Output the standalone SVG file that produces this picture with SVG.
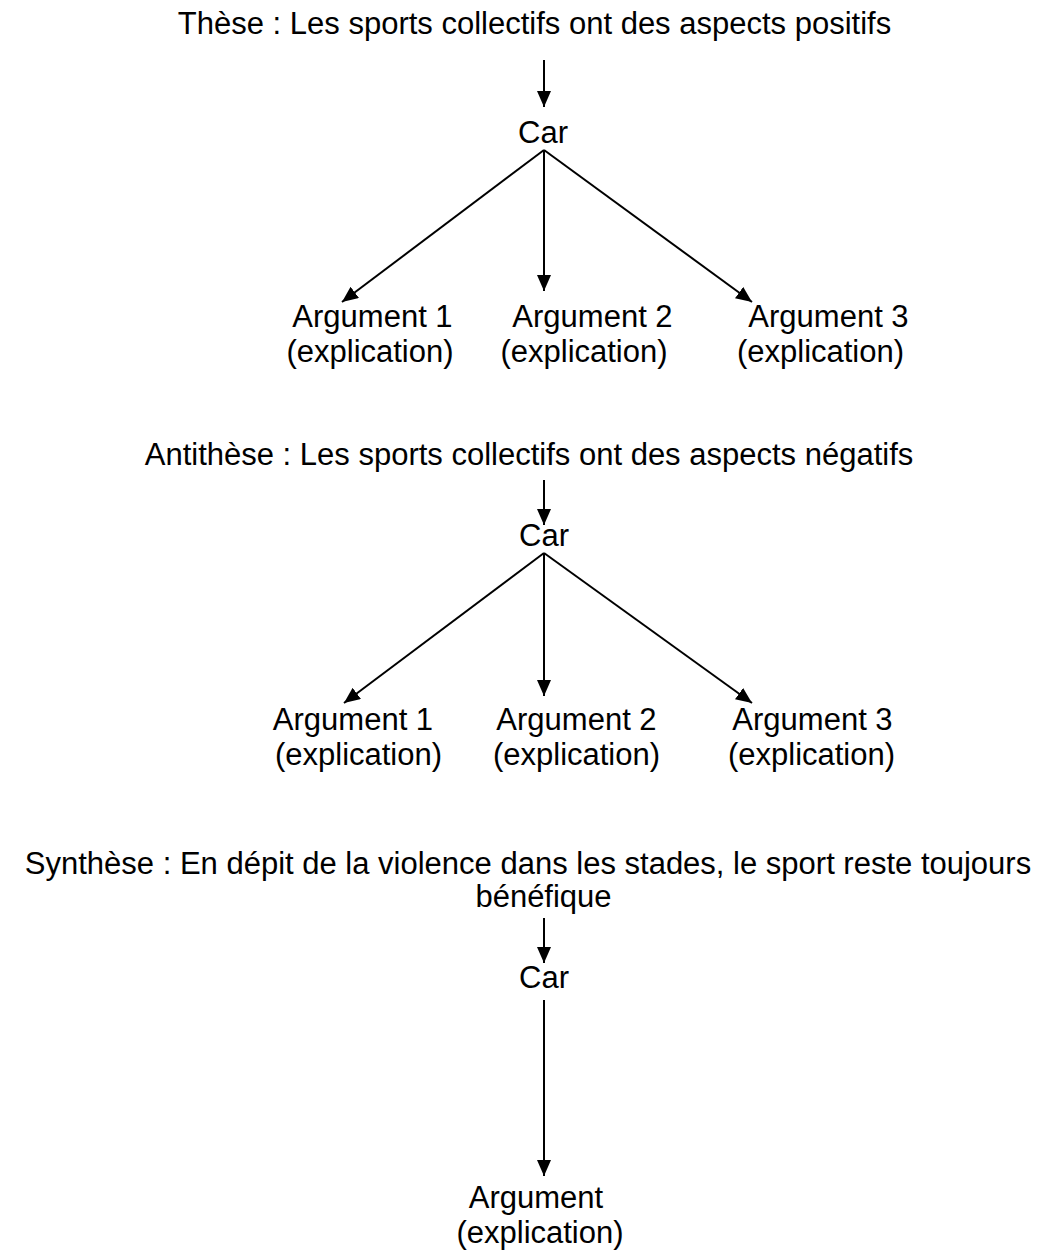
<svg xmlns="http://www.w3.org/2000/svg" width="1057" height="1251" viewBox="0 0 1057 1251">
<defs>
<style>
text{font-family:"Liberation Sans",Arial,sans-serif;font-size:31px;fill:#000;text-anchor:middle}
.c{stroke:#000;stroke-width:2;fill:none;marker-end:url(#ah)}
</style>
<marker id="ah" markerUnits="userSpaceOnUse" markerWidth="16" markerHeight="14" refX="16" refY="7" orient="auto" viewBox="0 0 16 14">
<path d="M0,0 L16,7 L0,14 z" fill="#000"/>
</marker>
</defs>
<rect width="1057" height="1251" fill="#fff"/>
<g id="connectors">
<line class="c" x1="544" y1="60" x2="544" y2="107"/>
<line class="c" x1="544" y1="150" x2="342" y2="302"/>
<line class="c" x1="544" y1="150" x2="544" y2="291"/>
<line class="c" x1="544" y1="150" x2="752" y2="302"/>
<line class="c" x1="544" y1="480" x2="544" y2="525"/>
<line class="c" x1="544" y1="553" x2="344" y2="703"/>
<line class="c" x1="544" y1="553" x2="544" y2="696"/>
<line class="c" x1="544" y1="553" x2="752" y2="703"/>
<line class="c" x1="544" y1="918" x2="544" y2="963"/>
<line class="c" x1="544" y1="1000" x2="544" y2="1176"/>
</g>
<g id="these"><text x="534.5" y="34">Thèse : Les sports collectifs ont des aspects positifs</text></g>
<g id="car1"><text x="543" y="143">Car</text></g>
<g id="t-arg1"><text x="372.5" y="327">Argument 1</text><text x="370" y="362">(explication)</text></g>
<g id="t-arg2"><text x="592.5" y="327">Argument 2</text><text x="584" y="362">(explication)</text></g>
<g id="t-arg3"><text x="828.5" y="327">Argument 3</text><text x="820.5" y="362">(explication)</text></g>
<g id="antithese"><text x="529" y="465">Antithèse : Les sports collectifs ont des aspects négatifs</text></g>
<g id="car2"><text x="544" y="546">Car</text></g>
<g id="a-arg1"><text x="353" y="730">Argument 1</text><text x="358.5" y="765">(explication)</text></g>
<g id="a-arg2"><text x="576.5" y="730">Argument 2</text><text x="576.5" y="765">(explication)</text></g>
<g id="a-arg3"><text x="812.5" y="730">Argument 3</text><text x="811.5" y="765">(explication)</text></g>
<g id="synthese"><text x="528" y="874">Synthèse : En dépit de la violence dans les stades, le sport reste toujours</text><text x="543.5" y="907">bénéfique</text></g>
<g id="car3"><text x="544" y="988">Car</text></g>
<g id="s-arg"><text x="536" y="1208">Argument</text><text x="540" y="1243">(explication)</text></g>
</svg>
